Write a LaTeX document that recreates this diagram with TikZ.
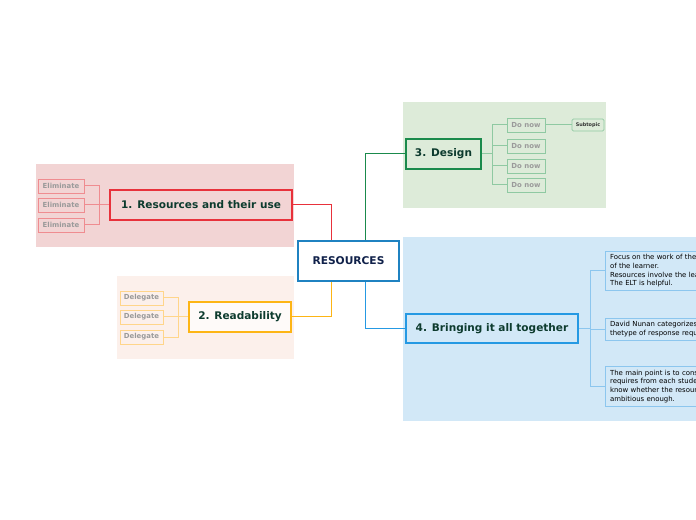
\documentclass[tikz,border=0pt]{standalone}
\usepackage{fontspec}
\setmainfont{DejaVu Sans}
\usepackage{xcolor}
\usetikzlibrary{positioning, calc}

\definecolor{redbg}{HTML}{F2D4D4}
\definecolor{redln}{HTML}{E8313B}
\definecolor{redlt}{HTML}{EF8C90}
\definecolor{orbg}{HTML}{FCF0EB}
\definecolor{orln}{HTML}{FDB515}
\definecolor{orlt}{HTML}{FFD58A}
\definecolor{grbg}{HTML}{DDEBD9}
\definecolor{grln}{HTML}{1A8A4C}
\definecolor{grlt}{HTML}{8FC9A2}
\definecolor{blbg}{HTML}{D2E8F7}
\definecolor{blln}{HTML}{2599E3}
\definecolor{bllt}{HTML}{8CC6EE}
\definecolor{titletxt}{HTML}{0D3B2E}
\definecolor{roottxt}{HTML}{10214A}
\definecolor{subtxt}{HTML}{9A9A9A}

\begin{document}
\begin{tikzpicture}[
    x=0.75pt, y=-0.75pt,
    topic/.style={draw, line width=1.2pt, inner sep=0pt, align=center,
        font=\fontsize{7.9}{9}\selectfont\bfseries, text=titletxt,
        minimum height=22.5pt},
    leaf/.style={draw, line width=0.6pt, inner sep=0pt, align=center,
        font=\fontsize{5.2}{6}\selectfont\bfseries, text=subtxt,
        minimum height=10.5pt},
    note/.style={draw=bllt, fill=blbg, line width=0.6pt, anchor=north west,
        inner sep=0pt, inner xsep=3.5pt, align=left, text width=150pt,
        font=\fontsize{5.2}{6.5}\selectfont, text=black},
    link/.style={line width=0.75pt},
]
    \path[use as bounding box, clip] (0,0) rectangle (696,520);
    \fill[white] (0,0) rectangle (696,520);

    % ── Backgrounds ──────────────────────────────
    \fill[redbg] (36,164) rectangle (294,247);
    \fill[orbg]  (117,276) rectangle (294,359);
    \fill[grbg]  (403,102) rectangle (606,208);
    \fill[blbg]  (403,237) rectangle (700,421);

    % ── Central topic ────────────────────────────
    \node[topic, draw=blln!85!black, fill=white, text=roottxt,
          font=\fontsize{8}{9}\selectfont\bfseries,
          minimum width=75.75pt, minimum height=30pt] (root) at (348.5,261) {RESOURCES};

    % ── Main topics ──────────────────────────────
    \node[topic, draw=redln, fill=redbg, minimum width=136.5pt] (res) at (201,205)
        {1. Resources and their use};
    \node[topic, draw=orln, fill=white!70!orbg, minimum width=76.5pt] (read) at (240,317)
        {2. Readability};
    \node[topic, draw=grln, fill=grbg, minimum width=56.25pt] (design) at (443.5,154)
        {3. Design};
    \node[topic, draw=blln, fill=blbg, minimum width=129pt, minimum height=21.75pt]
        (bring) at (492,328.5) {4. Bringing it all together};

    \draw[link, redln] (res.east) -| ([xshift=-13pt]root.north);
    \draw[link, orln] (read.east) -| ([xshift=-13pt]root.south);
    \draw[link, grln] ([xshift=13pt]root.north) |- (design.west);
    \draw[link, blln] ([xshift=13pt]root.south) |- (bring.west);

    % ── Eliminate ────────────────────────────────
    \coordinate (bres) at (99,205);
    \draw[link, redlt] (res.west) -- (bres);
    \foreach \i/\y in {1/186, 2/205, 3/225} {
        \node[leaf, draw=redlt, fill=redbg, minimum width=34.5pt] (elim\i) at (61,\y) {Eliminate};
        \draw[link, redlt] (bres) |- (elim\i.east);
    }

    % ── Delegate ─────────────────────────────────
    \coordinate (bread) at (178,317);
    \draw[link, orlt] (read.west) -- (bread);
    \foreach \i/\y in {1/298, 2/317, 3/337} {
        \node[leaf, draw=orlt, fill=orbg, minimum width=32.25pt] (deleg\i) at (141.5,\y) {Delegate};
        \draw[link, orlt] (bread) |- (deleg\i.east);
    }

    % ── Do now ───────────────────────────────────
    \coordinate (bdes) at (492,154);
    \draw[link, grlt] (design.east) -- (bdes);
    \foreach \i/\y in {1/125, 2/146, 3/166, 4/185} {
        \node[leaf, draw=grlt, fill=grbg, minimum width=28.5pt] (donow\i) at (526,\y) {Do now};
        \draw[link, grlt] (bdes) |- (donow\i.west);
    }
    \node[leaf, draw=grlt, fill=grbg, text=black!80, rounded corners=1pt,
          font=\fontsize{3.7}{4.5}\selectfont\bfseries,
          minimum width=24pt, minimum height=9pt] (sub) at (588,125) {Subtopic};
    \draw[link, grlt] (donow1.east) -- (sub.west);

    % ── Notes ────────────────────────────────────
    \coordinate (bbring) at (590,328.5);
    \draw[link, bllt] (bring.east) -- (bbring);
    \node[note, minimum height=29.25pt] (note1) at (605,251)
        {Focus on the work of the teacher and the work\\of the learner.\\
         Resources involve the learner.\\The ELT is helpful.};
    \node[note, minimum height=16.5pt] (note2) at (605,318)
        {David Nunan categorizes resources by\\thetype of response required.};
    \node[note, minimum height=30pt] (note3) at (605,366)
        {The main point is to consider what each task\\requires from each student so that we\\
         know whether the resource is\\ambitious enough.};
    \foreach \n in {note1, note2, note3}
        \draw[link, bllt] (bbring) |- (\n.west);
\end{tikzpicture}
\end{document}
